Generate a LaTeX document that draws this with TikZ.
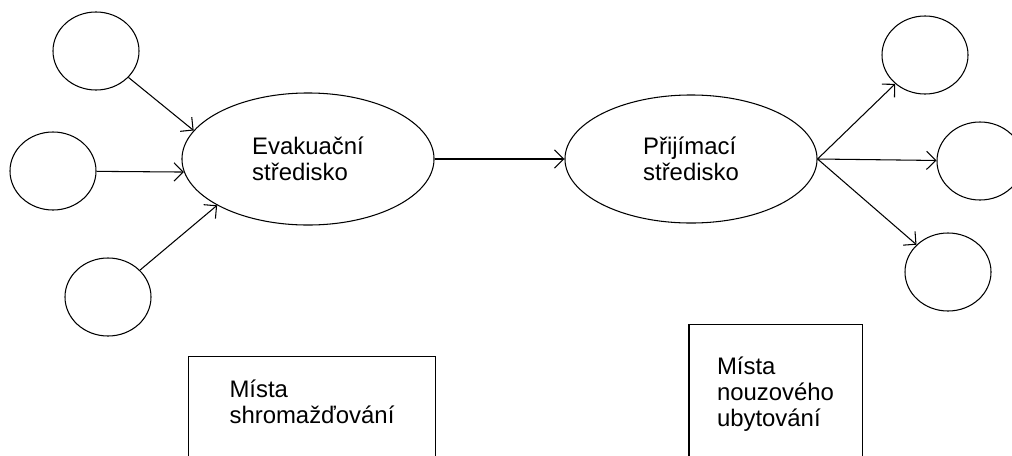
\documentclass[tikz,border=0pt]{standalone}
\usepackage{fontspec}
\setmainfont{Liberation Sans}
\usetikzlibrary{shapes.geometric, arrows.meta}
\begin{document}
\begin{tikzpicture}[x=0.025cm, y=-0.025cm, line width=0.75pt,
  font=\fontsize{17}{18.5}\selectfont,
  main/.style = {draw, ellipse, minimum width=2.15cm, minimum height=1.95cm},
  centre/.style = {draw, ellipse, align=left, inner sep=0pt, minimum width=6.3cm, minimum height=3.3cm},
  place/.style = {draw, align=left, anchor=north, text depth=2cm},
  arr/.style = {-{Straight Barb[length=6.5pt, width=13pt]}}]
  \useasboundingbox (0,0) rectangle (1012,455);
  \clip (0,0) rectangle (1012,455);
  \node[main] (1) at (96,51) {};
  \node[main] (2) at (53,171) {};
  \node[main] (3) at (108,297) {};
  \node[centre] (E) at (308,159) {Evakuační\\středisko};
  \node[centre, minimum height=3.2cm] (P) at (691,159) {Přijímací\\středisko};
  \node[main] (4) at (925,55) {};
  \node[main] (5) at (980,161) {};
  \node[main] (6) at (948,272) {};
  \node[place, minimum width=6.15cm, inner ysep=0.59cm] (S) at (312,356) {Místa\\shromažďování};
  \node[place, minimum width=4.325cm, inner ysep=0.81cm] (U) at (775.5,324) {Místa\\nouzového\\ubytování};
  \draw[arr] (1) -- (E.166);
  \draw[arr] (2) -- (E.186);
  \draw[arr] (3) -- (E.207);
  \draw[arr] (E.east) -- (P.west);
  \draw[arr] (P.east) -- (4);
  \draw[arr] (P.east) -- (5);
  \draw[arr] (P.east) -- (6);
\end{tikzpicture}
\end{document}
